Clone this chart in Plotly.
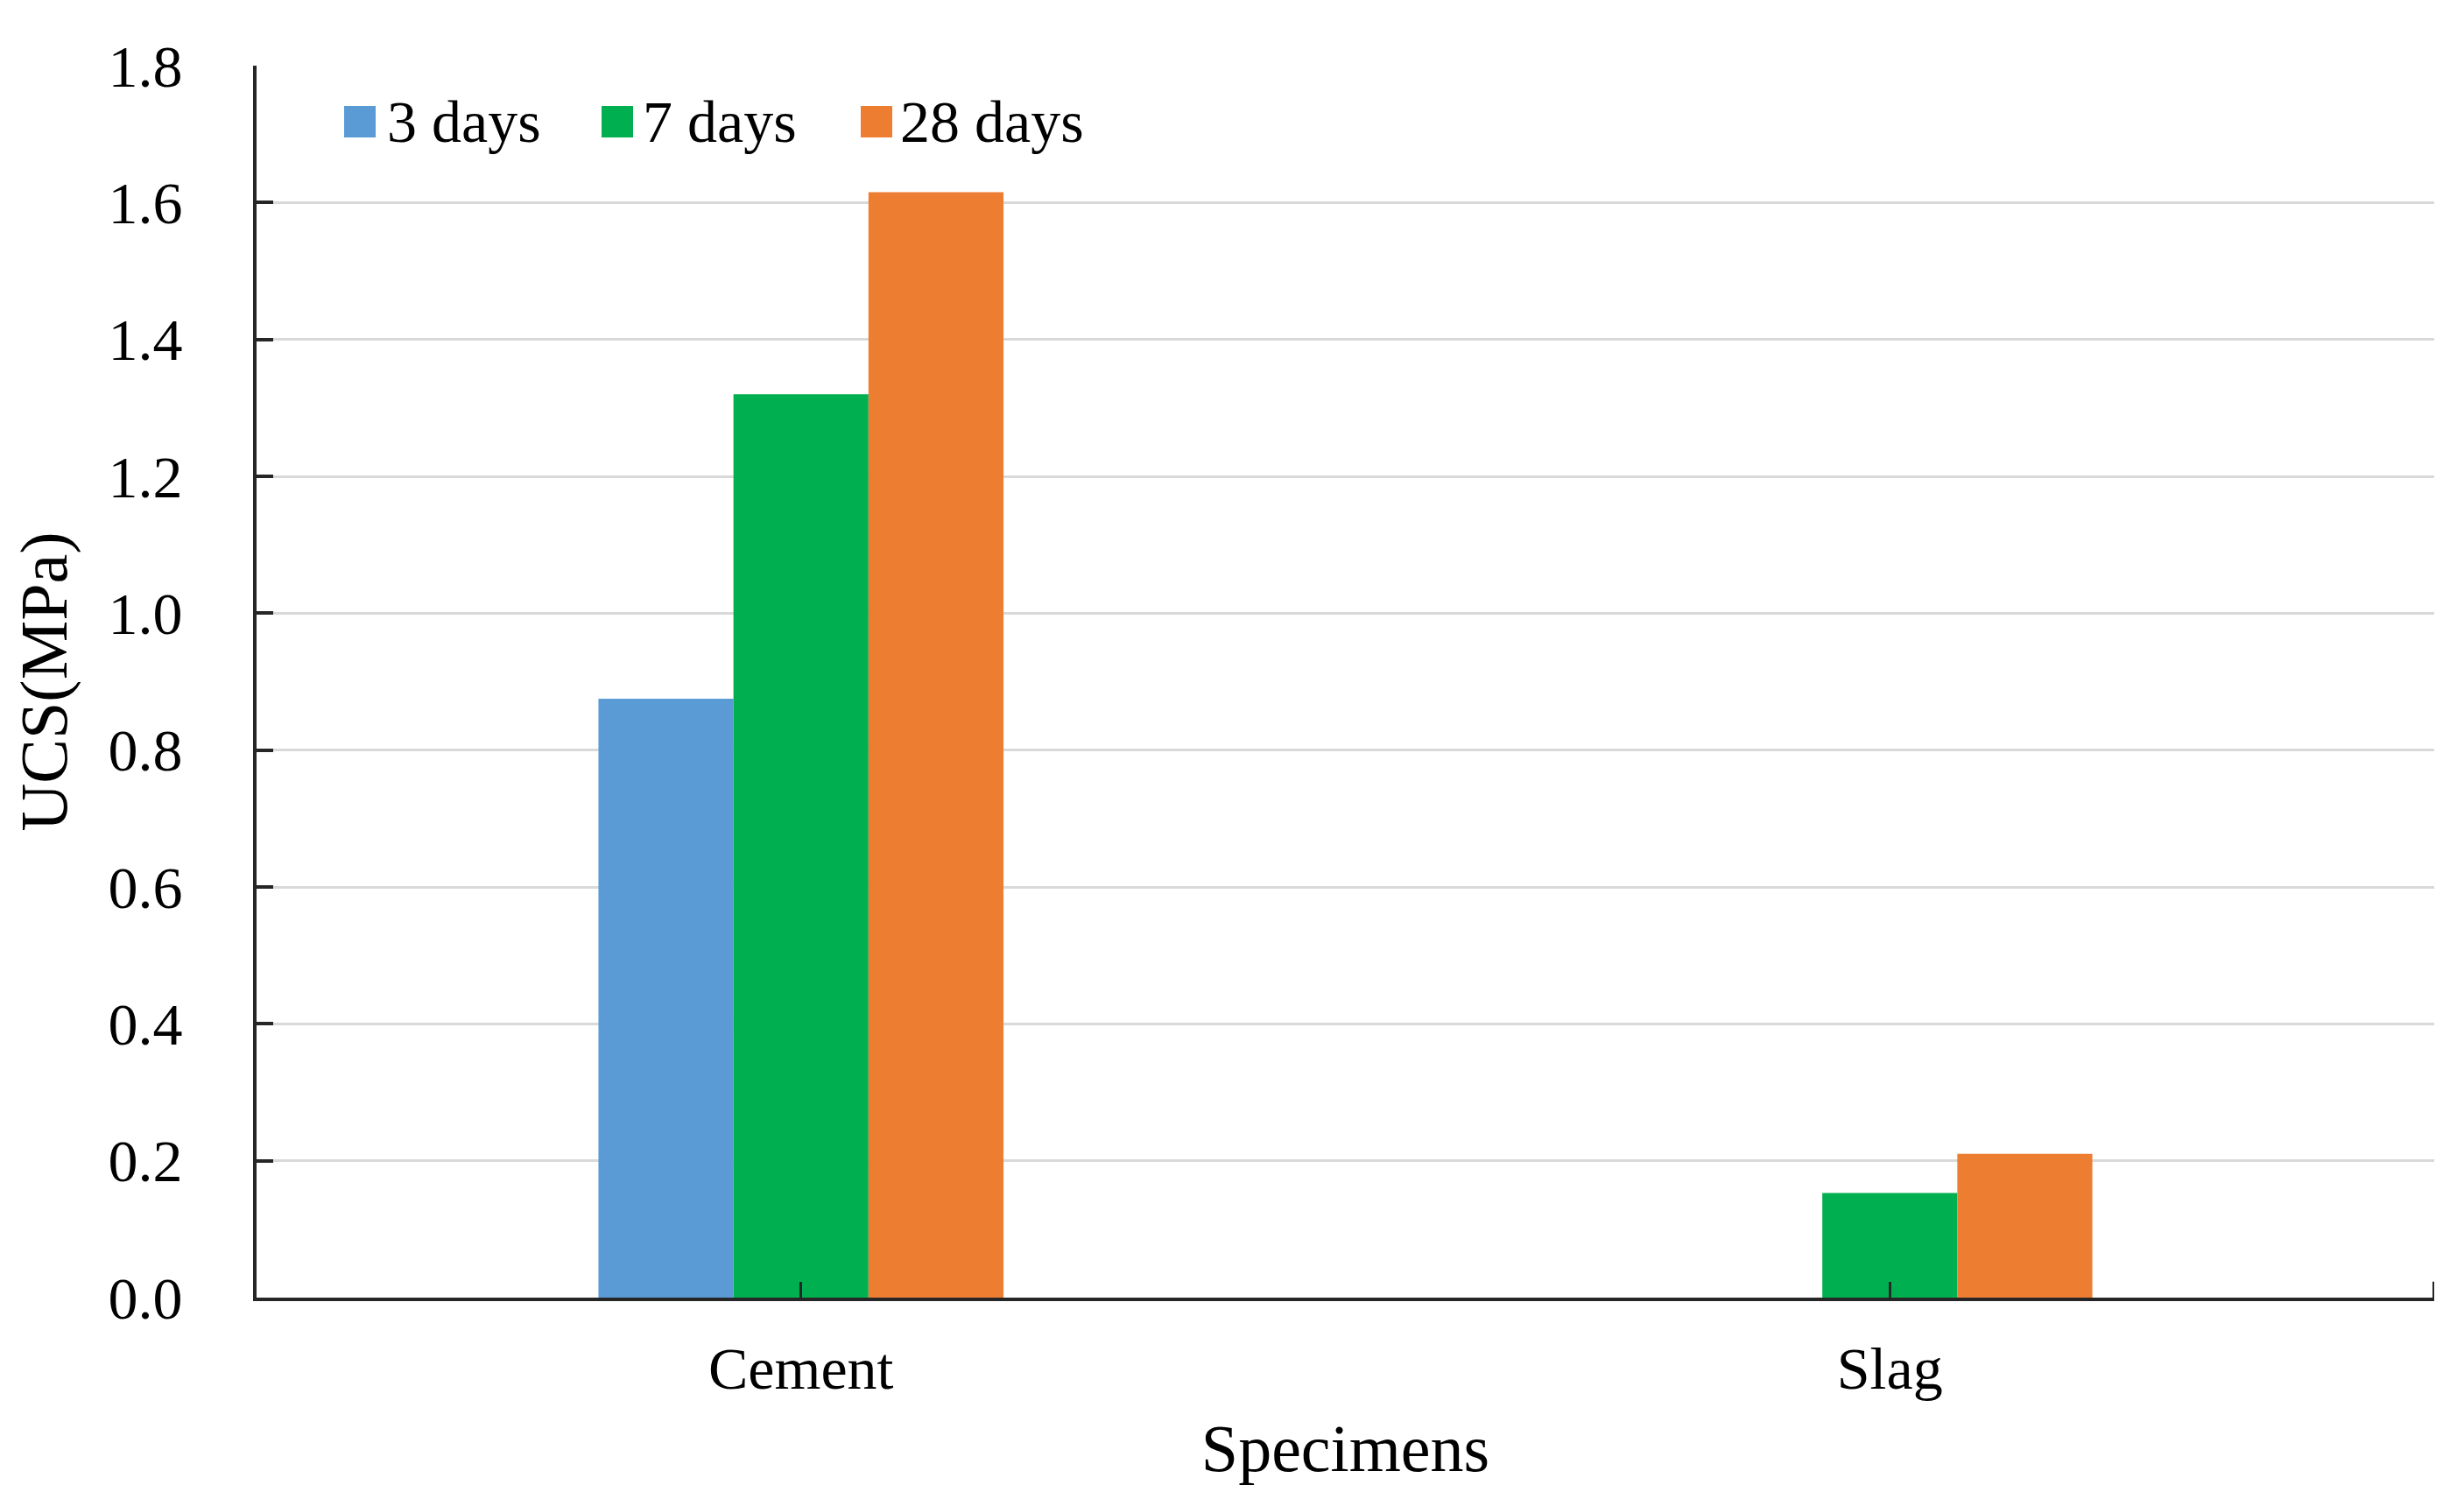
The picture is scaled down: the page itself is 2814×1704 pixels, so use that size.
import plotly.graph_objects as go

# ---- data ----
categories = ["Cement", "Slag"]
series_names = ["3 days", "7 days", "28 days"]
ucs_3d = [0.875, 0.0]
ucs_7d = [1.32, 0.153]
ucs_28d = [1.615, 0.21]
y_tick_vals = [0.0, 0.2, 0.4, 0.6, 0.8, 1.0, 1.2, 1.4, 1.6, 1.8]

colors = ["#5B9BD5", "#00B050", "#ED7D31"]
values = [ucs_3d, ucs_7d, ucs_28d]

W, H = 2814, 1704
OFF = 8  # page body margin offset
PLOT_W, PLOT_H = 2487, 1407
L, T = 293 - OFF, 75 - OFF
R = W - L - PLOT_W
B = H - T - PLOT_H
FONT = "Liberation Serif, Times New Roman, serif"
AXIS_COLOR = "#262626"

fig = go.Figure()
for name, vals, col in zip(series_names, values, colors):
    fig.add_trace(go.Bar(x=categories, y=vals, name=name,
                         marker=dict(color=col, line=dict(width=0)),
                         showlegend=False))

fig.update_layout(
    width=W, height=H,
    margin=dict(l=L, r=R, t=T, b=B, autoexpand=False),
    paper_bgcolor="white", plot_bgcolor="white",
    barmode="group", bargap=0.628, bargroupgap=0,
    font=dict(family=FONT, size=68, color="black"),
    showlegend=False,
)

fig.update_xaxes(
    type="category", range=[-0.5, 1.5],
    showline=True, linecolor=AXIS_COLOR, linewidth=4,
    ticks="inside", ticklen=18, tickwidth=3, tickcolor=AXIS_COLOR,
    showgrid=False, zeroline=False,
    tickfont=dict(family=FONT, size=68, color="black"),
    ticklabelstandoff=18,
    title=dict(text="Specimens", font=dict(family=FONT, size=76, color="black"), standoff=28),
)
fig.update_yaxes(
    range=[0, 1.8], tickmode="array", tickvals=y_tick_vals, tickformat=".1f",
    showline=True, linecolor=AXIS_COLOR, linewidth=4,
    ticks="inside", ticklen=19, tickwidth=4, tickcolor=AXIS_COLOR,
    showgrid=True, gridcolor="#D9D9D9", gridwidth=3, zeroline=False,
    tickfont=dict(family=FONT, size=68, color="black"),
    ticklabelstandoff=67,
    title=dict(text="UCS(MPa)", font=dict(family=FONT, size=76, color="black"), standoff=24),
)

# right-end tick on the category axis
fig.add_shape(type="line", xref="x", yref="paper", x0=1.5, x1=1.5, y0=0, y1=0.013,
              line=dict(color=AXIS_COLOR, width=4))

# custom legend (swatches + labels) at the top-left of the plot area
def px_x(p):
    return (p - OFF - L) / PLOT_W
def px_y(p):
    return (T + PLOT_H - (p - OFF)) / PLOT_H

legend_swatch_x = [393, 687, 983]
legend_text_x = [440, 732, 1026]
sw = 36
yc = 139
for name, col, sx, tx in zip(series_names, colors, legend_swatch_x, legend_text_x):
    fig.add_shape(type="rect", xref="paper", yref="paper",
                  x0=px_x(sx), x1=px_x(sx + sw), y0=px_y(yc + sw / 2), y1=px_y(yc - sw / 2),
                  fillcolor=col, line=dict(width=0))
    fig.add_annotation(xref="paper", yref="paper", x=px_x(tx), y=px_y(yc),
                       xanchor="left", yanchor="middle", text=name, showarrow=False,
                       font=dict(family=FONT, size=68, color="black"))

fig.write_html("out.html")
